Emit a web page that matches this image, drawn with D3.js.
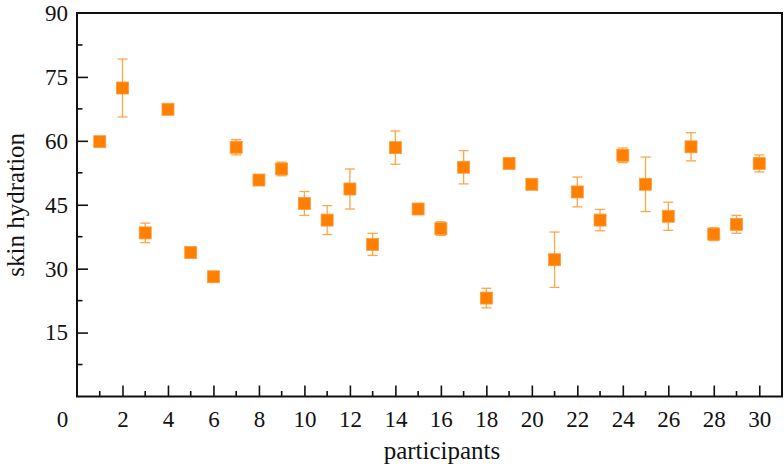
<!DOCTYPE html>
<html>
<head>
<meta charset="utf-8">
<script src="https://cdn.jsdelivr.net/npm/d3@7"></script>
<style>
  html, body { margin: 0; padding: 0; background: #fff; }
  svg { display: block; }
  text { font-family: "Liberation Serif", "Times New Roman", serif; fill: #111; }
</style>
</head>
<body>
<svg id="chart" width="784" height="464"></svg>
<script>
const participants = d3.range(1, 31);
const hydration = [59.8, 72.4, 38.4, 67.4, 33.8, 28.1, 58.5, 50.8, 53.4, 45.3,
                   41.4, 48.7, 35.7, 58.4, 44.0, 39.4, 53.8, 23.1, 54.7, 49.8,
                   32.1, 48.0, 41.4, 56.6, 49.8, 42.3, 58.6, 38.1, 40.4, 54.7];
const errors = [0.6, 6.8, 2.3, 0.5, 0.6, 0.6, 1.8, 0.7, 1.6, 2.8,
                3.4, 4.7, 2.6, 3.9, 0.6, 1.6, 3.9, 2.3, 0.5, 1.0,
                6.5, 3.5, 2.5, 1.7, 6.4, 3.3, 3.3, 1.5, 2.1, 2.0];
const xMajorTicks = [0, 2, 4, 6, 8, 10, 12, 14, 16, 18, 20, 22, 24, 26, 28, 30];
const xMinorTicks = [1, 3, 5, 7, 9, 11, 13, 15, 17, 19, 21, 23, 25, 27, 29];
const yMajorTicks = [15, 30, 45, 60, 75, 90];
const yMinorTicks = [7.5, 22.5, 37.5, 52.5, 67.5, 82.5];
const xTitle = "participants";
const yTitle = "skin hydration";

const svg = d3.select("#chart");
const L = 77, R = 782, T = 13, B = 396.5;
const x = d3.scaleLinear().domain([0, 31]).range([L, R]);
const y = d3.scaleLinear().domain([0, 90]).range([B, T]);

const errColor = "#FFA54A";
const markColor = "#FF8000";

// error bars
const eb = svg.append("g");
participants.forEach((p, i) => {
  const cx = x(p), v = hydration[i], e = errors[i];
  eb.append("line").attr("x1", cx).attr("x2", cx)
    .attr("y1", y(v + e)).attr("y2", y(v - e))
    .attr("stroke", errColor).attr("stroke-width", 1.3);
  [v + e, v - e].forEach(vv => {
    eb.append("line").attr("x1", cx - 5).attr("x2", cx + 5)
      .attr("y1", y(vv)).attr("y2", y(vv))
      .attr("stroke", errColor).attr("stroke-width", 1.3);
  });
});

// markers
const ms = 12;
svg.append("g").selectAll("rect").data(participants).join("rect")
  .attr("x", d => x(d) - ms / 2)
  .attr("y", (d, i) => y(hydration[i]) - ms / 2)
  .attr("width", ms).attr("height", ms)
  .attr("fill", markColor)
  .attr("stroke", "#FF9A3C").attr("stroke-width", 0.8);

// axes with inward ticks
const xAxis = d3.axisBottom(x).tickValues(xMajorTicks).tickSize(-11).tickPadding(14).tickFormat(d3.format("d"));
const gx = svg.append("g").attr("transform", `translate(0,${B})`).call(xAxis);
gx.select(".domain").remove();
gx.selectAll("line").attr("stroke", "#111").attr("stroke-width", 1.6);
gx.selectAll("text").attr("font-size", 23).attr("fill", "#111")
  .style("font-family", '"Liberation Serif", serif');
gx.selectAll(".tick").filter(d => d === 0).select("text").attr("dx", -15);
gx.selectAll(".tick").filter(d => d === 0).select("line").remove();

svg.append("g").selectAll("line").data(xMinorTicks).join("line")
  .attr("x1", d => x(d)).attr("x2", d => x(d))
  .attr("y1", B).attr("y2", B - 5.5)
  .attr("stroke", "#111").attr("stroke-width", 1.6);

const yAxis = d3.axisLeft(y).tickValues(yMajorTicks).tickSize(-11).tickPadding(9);
const gy = svg.append("g").attr("transform", `translate(${L},0)`).call(yAxis);
gy.select(".domain").remove();
gy.selectAll("line").attr("stroke", "#111").attr("stroke-width", 1.6);
gy.selectAll(".tick").filter(d => d === 90).select("line").remove();
gy.selectAll("text").attr("font-size", 23).attr("fill", "#111")
  .style("font-family", '"Liberation Serif", serif');

svg.append("g").selectAll("line").data(yMinorTicks).join("line")
  .attr("x1", L).attr("x2", L + 5.5)
  .attr("y1", d => y(d)).attr("y2", d => y(d))
  .attr("stroke", "#111").attr("stroke-width", 1.6);

// frame
svg.append("rect").attr("x", L).attr("y", T).attr("width", R - L).attr("height", B - T)
  .attr("fill", "none").attr("stroke", "#111").attr("stroke-width", 2);

// titles
svg.append("text").attr("x", 442).attr("y", 459).attr("text-anchor", "middle")
  .attr("font-size", 25).text(xTitle);
svg.append("text").attr("transform", `translate(24,${(T + B) / 2}) rotate(-90)`)
  .attr("text-anchor", "middle").attr("font-size", 25).text(yTitle);
</script>
</body>
</html>
